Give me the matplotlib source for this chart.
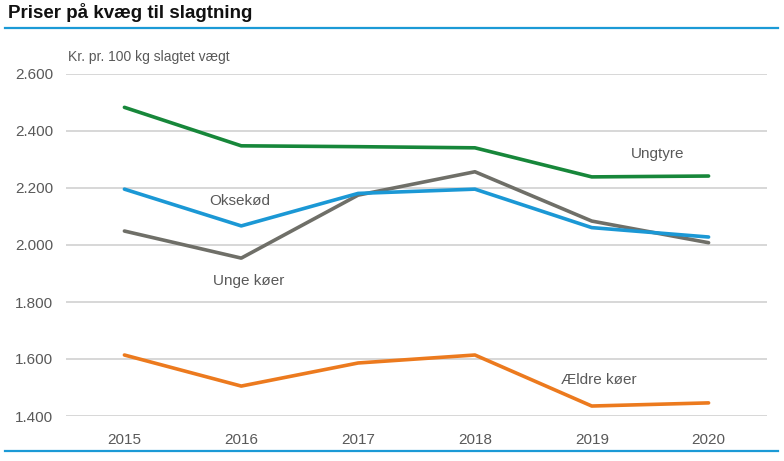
import matplotlib
matplotlib.use("Agg")
import matplotlib.pyplot as plt
from matplotlib import font_manager as fm
from matplotlib.lines import Line2D

years = ["2015", "2016", "2017", "2018", "2019", "2020"]
ungtyre = [2483, 2348, 2345, 2341, 2239, 2242]
oksekod = [2196, 2067, 2181, 2196, 2061, 2028]
unge_koer = [2049, 1954, 2175, 2257, 2084, 2008]
aeldre_koer = [1614, 1505, 1586, 1614, 1435, 1446]
yticks = [1400, 1600, 1800, 2000, 2200, 2400, 2600]
ytick_labels = ["1.400", "1.600", "1.800", "2.000", "2.200", "2.400", "2.600"]

names = {f.name for f in fm.fontManager.ttflist}
narrow = "Liberation Sans Narrow" if "Liberation Sans Narrow" in names else "Liberation Sans"
plt.rcParams["font.family"] = [narrow, "DejaVu Sans"]

fig = plt.figure(figsize=(7.84, 4.61), dpi=100)
ax = fig.add_axes([66/784, 1-416/461, (767-66)/784, (416-74)/461])

x = list(range(len(years)))
green = "#17873a"
blue = "#1b98d5"
gray = "#6f6f68"
orange = "#ec7a1e"
lw = 2.6
ax.plot(x, ungtyre, color=green, lw=lw, solid_capstyle="round", zorder=3)
ax.plot(x, unge_koer, color=gray, lw=lw, solid_capstyle="round", zorder=3)
ax.plot(x, oksekod, color=blue, lw=lw, solid_capstyle="round", zorder=4)
ax.plot(x, aeldre_koer, color=orange, lw=lw, solid_capstyle="round", zorder=3)

ax.set_xlim(-0.5, 5.5)
ax.set_ylim(1400, 2600)
ax.set_yticks(yticks)
ax.set_yticklabels(ytick_labels)
ax.set_xticks(x)
ax.set_xticklabels(years)
ax.grid(axis="y", color="#d4d4d4", lw=1.3)
ax.set_axisbelow(True)
for s in ax.spines.values():
    s.set_visible(False)
ax.tick_params(length=0, labelsize=11, colors="#595959")
ax.tick_params(axis="y", pad=9)
ax.tick_params(axis="x", pad=12)

tc = "#595959"
fs = 11
fig.text(68/784, 1-57/461, "Kr. pr. 100 kg slagtet vægt", fontsize=10, color=tc,
         ha="left", va="center")

ax.text(4.56, 2318, "Ungtyre", fontsize=fs, color=tc, ha="center", va="center")
ax.text(0.99, 2153, "Oksekød", fontsize=fs, color=tc, ha="center", va="center")
ax.text(1.06, 1875, "Unge køer", fontsize=fs, color=tc, ha="center", va="center")
ax.text(4.06, 1527, "Ældre køer", fontsize=fs, color=tc, ha="center", va="center")

fig.text(8/784, 1-12/461, "Priser på kvæg til slagtning", fontsize=13.5,
         fontweight="bold", color="#111111", ha="left", va="center")
fig.add_artist(Line2D([5/784, 778/784], [1-28/461, 1-28/461], color="#1b9ad6", lw=1.6))
fig.add_artist(Line2D([5/784, 778/784], [1-451/461, 1-451/461], color="#1b9ad6", lw=1.6))

fig.savefig("out.png", dpi=100)
